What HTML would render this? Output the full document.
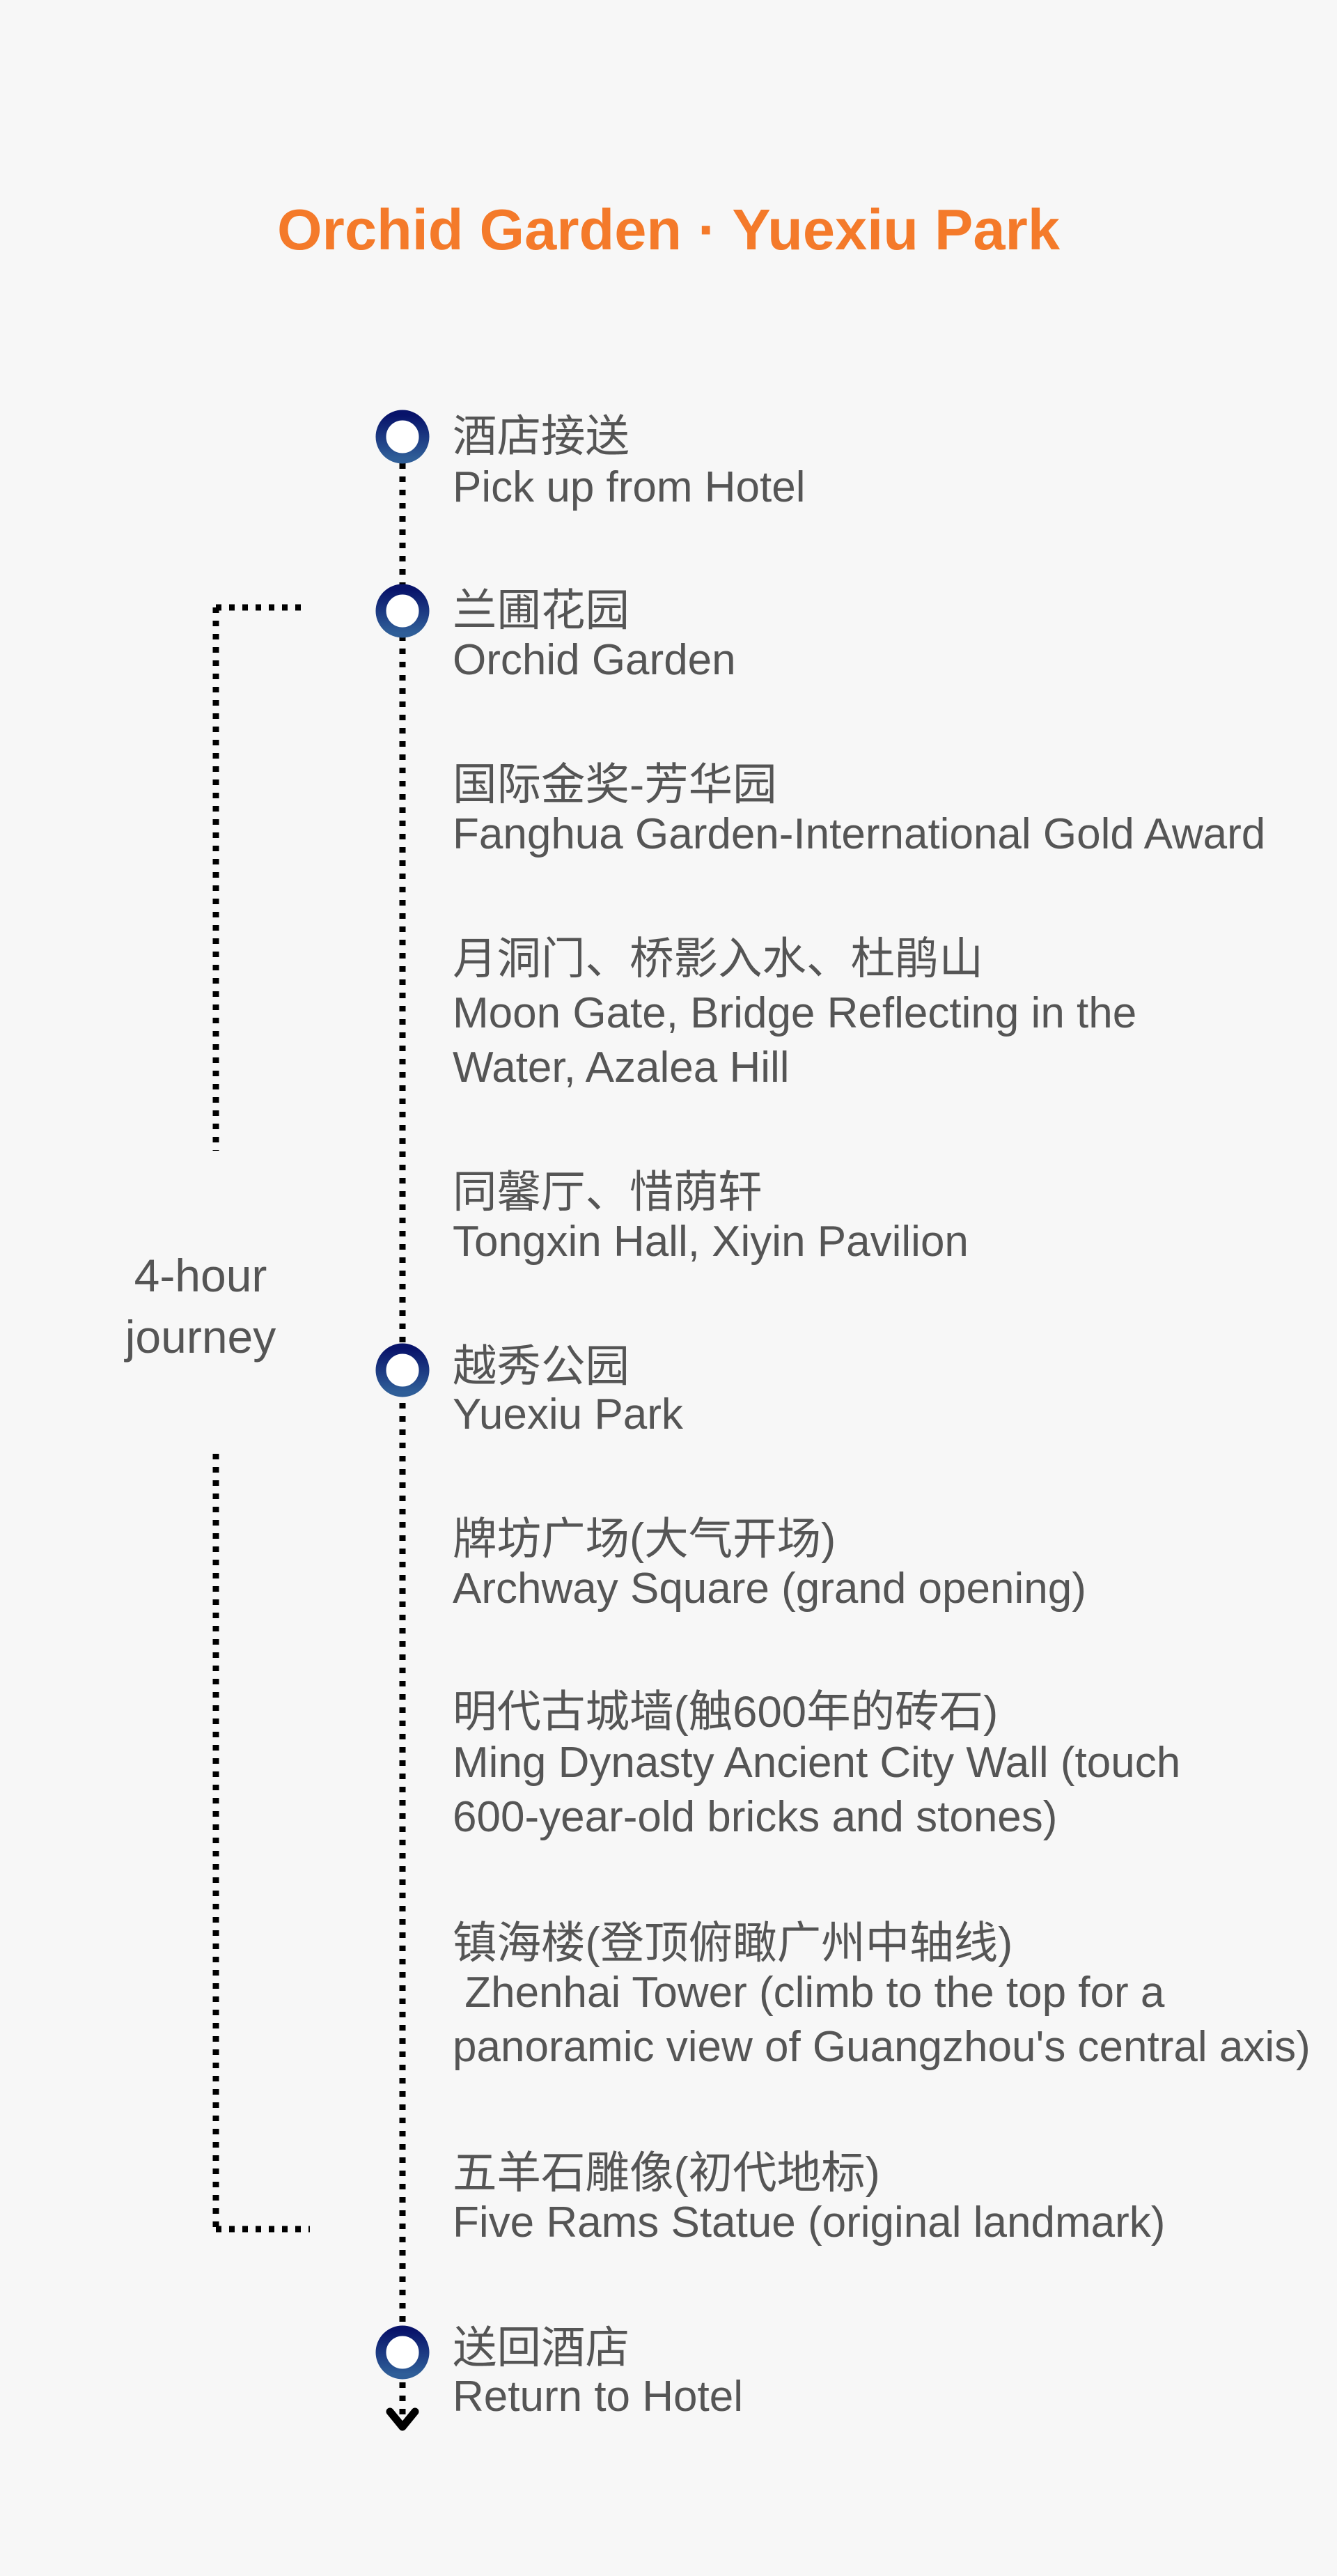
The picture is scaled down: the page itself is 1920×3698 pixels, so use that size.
<!DOCTYPE html>
<html><head><meta charset="utf-8"><style>
html,body{margin:0;padding:0;background:#f7f7f7;}
body{width:1920px;height:3698px;position:relative;overflow:hidden;font-family:"Liberation Sans","Noto Sans CJK SC",sans-serif;color:#555;}
.t{position:absolute;left:0;width:1920px;text-align:center;top:280px;font-size:83px;font-weight:bold;color:#f47a2a;line-height:100px;}
.zh{position:absolute;left:650px;font-size:63.5px;line-height:74px;white-space:pre;font-family:"Liberation Sans","Noto Sans CJK SC",sans-serif;}
.en{position:absolute;left:650px;font-size:62px;line-height:78px;white-space:pre;}
.j{position:absolute;left:138px;width:300px;text-align:center;font-size:66px;line-height:88px;top:1787px;}
svg{position:absolute;left:0;top:0;}
</style></head><body>
<svg width="1920" height="3698">
<defs><linearGradient id="g" x1="0" y1="0" x2="0" y2="1"><stop offset="0" stop-color="#08136a"/><stop offset="1" stop-color="#2f5e98"/></linearGradient></defs>
<g stroke="#000" stroke-width="9" fill="none" stroke-dasharray="8 11">
<line x1="578" y1="627" x2="578" y2="3470"/>
<line x1="310" y1="872" x2="310" y2="1652"/>
<line x1="310" y1="872" x2="436" y2="872"/>
<line x1="310" y1="2087" x2="310" y2="3200"/>
<line x1="310" y1="3200" x2="445" y2="3200"/>
</g>
<path d="M560 3462 L578 3484 L596 3462" stroke="#000" stroke-width="11" fill="none" stroke-linecap="round" stroke-linejoin="round"/>
<g fill="#fff" stroke="url(#g)" stroke-width="15">
<ellipse cx="578" cy="627" rx="31" ry="31"/>
<ellipse cx="578" cy="877" rx="31" ry="31"/>
<ellipse cx="578" cy="1967" rx="31" ry="31"/>
<ellipse cx="578" cy="3377" rx="31" ry="31"/>
</g>
</svg>
<div class="t">Orchid Garden · Yuexiu Park</div>
<div class="j">4-hour<br>journey</div>

<div class="zh" style="top:590px">酒店接送</div>
<div class="en" style="top:661px">Pick up from Hotel</div>

<div class="zh" style="top:840px">兰圃花园</div>
<div class="en" style="top:909px">Orchid Garden</div>

<div class="zh" style="top:1090px">国际金奖-芳华园</div>
<div class="en" style="top:1159px">Fanghua Garden-International Gold Award</div>

<div class="zh" style="top:1340px">月洞门、桥影入水、杜鹃山</div>
<div class="en" style="top:1416px">Moon Gate, Bridge Reflecting in the
Water, Azalea Hill</div>

<div class="zh" style="top:1675px">同馨厅、惜荫轩</div>
<div class="en" style="top:1744px">Tongxin Hall, Xiyin Pavilion</div>

<div class="zh" style="top:1925px">越秀公园</div>
<div class="en" style="top:1992px">Yuexiu Park</div>

<div class="zh" style="top:2173px">牌坊广场(大气开场)</div>
<div class="en" style="top:2242px">Archway Square (grand opening)</div>

<div class="zh" style="top:2421px">明代古城墙(触600年的砖石)</div>
<div class="en" style="top:2492px">Ming Dynasty Ancient City Wall (touch
600-year-old bricks and stones)</div>

<div class="zh" style="top:2753px">镇海楼(登顶俯瞰广州中轴线)</div>
<div class="en" style="top:2822px"> Zhenhai Tower (climb to the top for a
panoramic view of Guangzhou's central axis)</div>

<div class="zh" style="top:3083px">五羊石雕像(初代地标)</div>
<div class="en" style="top:3152px">Five Rams Statue (original landmark)</div>

<div class="zh" style="top:3334px">送回酒店</div>
<div class="en" style="top:3402px">Return to Hotel</div>
</body></html>
